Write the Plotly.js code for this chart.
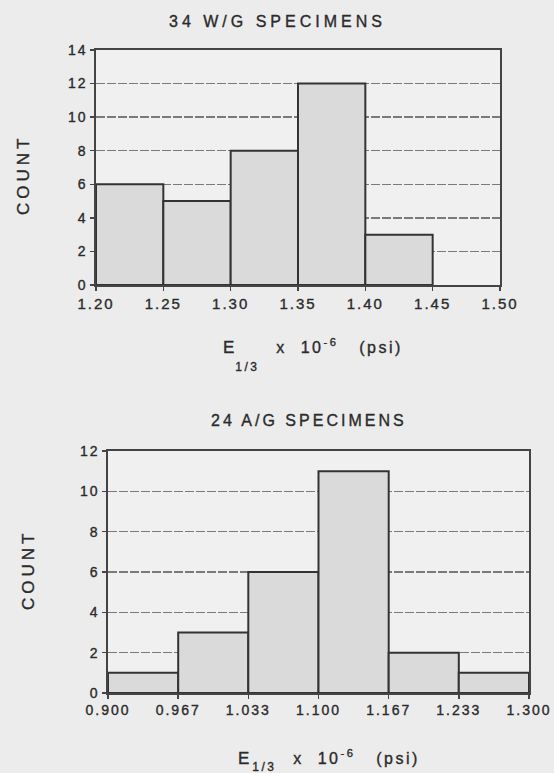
<!DOCTYPE html>
<html>
<head>
<meta charset="utf-8">
<script src="https://cdn.plot.ly/plotly-3.0.1.min.js"></script>
<style>
  html, body { margin: 0; padding: 0; background: #ececec; }
  #chart { width: 554px; height: 773px; }
  .xtick text, .ytick text, .x2tick text, .y2tick text { letter-spacing: 2px; stroke: #2a2a2a; stroke-width: 0.35px; }
  .annotation text { stroke: #2a2a2a; stroke-width: 0.35px; }
  .annotation[data-index="0"] text { letter-spacing: 4px; }
  .annotation[data-index="1"] text { letter-spacing: 3px; }
  .annotation[data-index="2"] text, .annotation[data-index="3"] text { letter-spacing: 4px; }
  .annotation[data-index="5"] text, .annotation[data-index="6"] text,
  .annotation[data-index="8"] text, .annotation[data-index="9"] text { letter-spacing: 2.5px; }
</style>
</head>
<body>
<div id="chart"></div>
<script>
// ---- Data ----
const wgTitle = "34 W/G SPECIMENS";
const wgEdges = [1.20, 1.25, 1.30, 1.35, 1.40, 1.45];
const wgCounts = [6, 5, 8, 12, 3];
const wgTickVals = [1.20, 1.25, 1.30, 1.35, 1.40, 1.45, 1.50];
const wgTickLabels = ["1.20", "1.25", "1.30", "1.35", "1.40", "1.45", "1.50"];

const agTitle = "24 A/G SPECIMENS";
const agEdges = [0.900, 0.9667, 1.0333, 1.100, 1.1667, 1.2333, 1.300];
const agCounts = [1, 3, 6, 11, 2, 1];
const agTickVals = [0.900, 0.9667, 1.0333, 1.100, 1.1667, 1.2333, 1.300];
const agTickLabels = ["0.900", "0.967", "1.033", "1.100", "1.167", "1.233", "1.300"];

const yTitle = "COUNT";

// ---- helpers ----
function mids(edges) { return edges.slice(0, -1).map((e, i) => (e + edges[i + 1]) / 2); }
function widths(edges) { return edges.slice(0, -1).map((e, i) => edges[i + 1] - e); }

const W = 554, H = 773;
const px = x => x / W;
const py = y => 1 - y / H;

const barStyle = { color: "#dadada", line: { color: "#333", width: 2 } };

const traces = [
  { type: "bar", x: mids(wgEdges), y: wgCounts, width: widths(wgEdges),
    marker: barStyle, xaxis: "x", yaxis: "y", showlegend: false, hoverinfo: "skip" },
  { type: "bar", x: mids(agEdges), y: agCounts, width: widths(agEdges),
    marker: barStyle, xaxis: "x2", yaxis: "y2", showlegend: false, hoverinfo: "skip" }
];

const tickFont = { family: "Liberation Sans, Arial, sans-serif", size: 14, color: "#2a2a2a" };
const gridCommon = { showgrid: true, gridcolor: "#7a7a7a", gridwidth: 1.3, griddash: "9px,2px" };

const axisCommon = {
  showline: true, mirror: true, linecolor: "#444", linewidth: 1.6,
  ticks: "outside", ticklen: 4, tickcolor: "#444", tickwidth: 1.5,
  zeroline: false, fixedrange: true, automargin: false
};

const textFont = (size, color) => ({ family: "Liberation Sans, Arial, sans-serif", size: size, color: color || "#2a2a2a" });

const annotations = [
  // 0: top title
  { text: wgTitle, x: px(277), y: py(21), xanchor: "center", yanchor: "middle", font: textFont(16) },
  // 1: bottom title
  { text: agTitle, x: px(309), y: py(420), xanchor: "center", yanchor: "middle", font: textFont(16) },
  // 2,3: COUNT
  { text: yTitle, x: px(23), y: py(175), xanchor: "center", yanchor: "middle", textangle: -90, font: textFont(17) },
  { text: yTitle, x: px(28), y: py(570), xanchor: "center", yanchor: "middle", textangle: -90, font: textFont(17) },
  // 4,5,6: top x title
  { text: "E", x: px(221), y: py(347), xanchor: "left", yanchor: "middle", font: textFont(17) },
  { text: "1/3", x: px(237), y: py(367), xanchor: "left", yanchor: "middle", font: textFont(12) },
  { text: "x&nbsp;&nbsp;10<sup>-6</sup>&nbsp;&nbsp;&nbsp;(psi)", x: px(293), y: py(346), xanchor: "left", yanchor: "middle", font: textFont(16) },
  // 7,8,9: bottom x title
  { text: "E", x: px(236), y: py(758), xanchor: "left", yanchor: "middle", font: textFont(17) },
  { text: "1/3", x: px(254), y: py(767), xanchor: "left", yanchor: "middle", font: textFont(12) },
  { text: "x&nbsp;&nbsp;10<sup>-6</sup>&nbsp;&nbsp;&nbsp;(psi)", x: px(310), y: py(757), xanchor: "left", yanchor: "middle", font: textFont(16) }
].map(a => Object.assign({ xref: "paper", yref: "paper", showarrow: false }, a));

const layout = {
  width: W, height: H,
  margin: { l: 0, r: 0, t: 0, b: 0 },
  paper_bgcolor: "#ececec",
  plot_bgcolor: "#f0f0f0",
  bargap: 0,
  showlegend: false,
  xaxis: Object.assign({}, axisCommon, {
    domain: [px(96), px(500)], anchor: "y", range: [1.20, 1.50],
    tickvals: wgTickVals, ticktext: wgTickLabels, showgrid: false,
    tickfont: Object.assign({}, tickFont, { size: 15 })
  }),
  yaxis: Object.assign({}, axisCommon, gridCommon, {
    domain: [py(285), py(50)], anchor: "x", range: [0, 14], dtick: 2,
    tickfont: tickFont
  }),
  xaxis2: Object.assign({}, axisCommon, {
    domain: [px(108), px(529)], anchor: "y2", range: [0.900, 1.300],
    tickvals: agTickVals, ticktext: agTickLabels, showgrid: false,
    tickfont: tickFont
  }),
  yaxis2: Object.assign({}, axisCommon, gridCommon, {
    domain: [py(693), py(451)], anchor: "x2", range: [0, 12], dtick: 2,
    tickfont: tickFont
  }),
  annotations: annotations
};

Plotly.newPlot("chart", traces, layout, { displayModeBar: false, staticPlot: true });
</script>
</body>
</html>
